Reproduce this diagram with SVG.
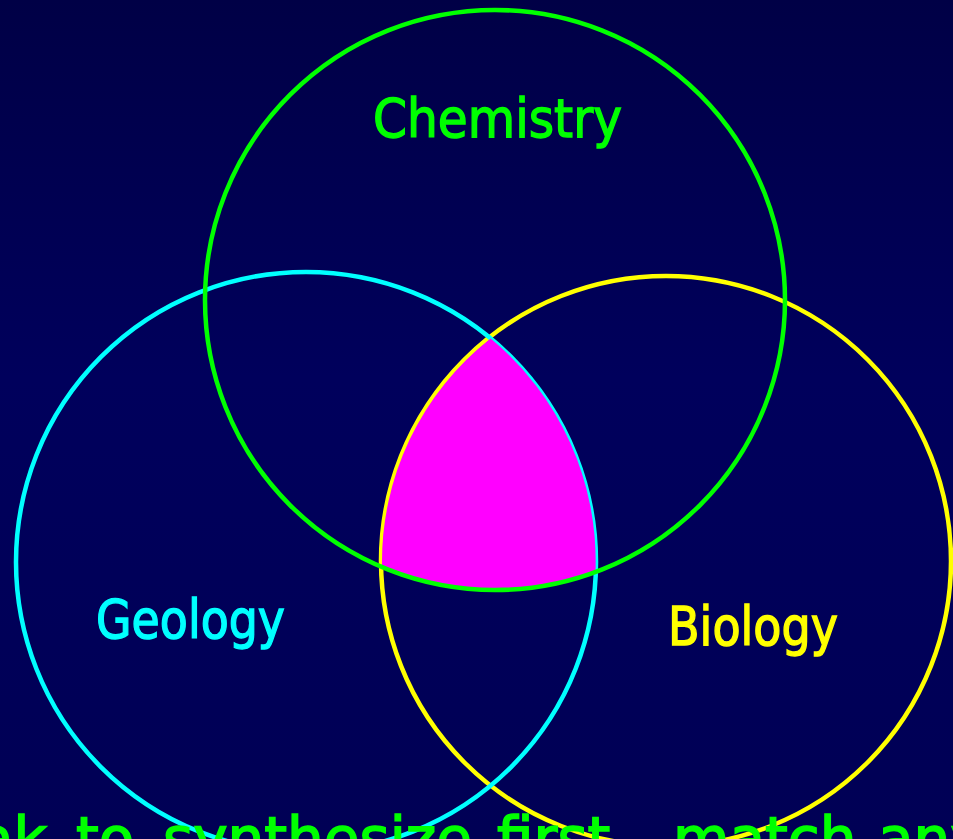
<svg xmlns="http://www.w3.org/2000/svg" width="953" height="839" viewBox="0 0 953 839">
  <defs>
    <linearGradient id="bg" x1="0" y1="0" x2="0" y2="1">
      <stop offset="0" stop-color="#000046"/>
      <stop offset="0.45" stop-color="#00005c"/>
      <stop offset="1" stop-color="#000055"/>
    </linearGradient>
  </defs>
  <style>
    .ring { fill: none; stroke-width: 4.5; }
    .lbl { font-family: "DejaVu Sans", "Liberation Sans", sans-serif; font-size: 53px; stroke-width: 1.4; }
    .foot { font-family: "DejaVu Sans", "Liberation Sans", sans-serif; font-size: 58px; fill: #00ff00; stroke: #00ff00; stroke-width: 1.6; }
  </style>
  <rect x="0" y="0" width="953" height="839" fill="url(#bg)"/>

  <g id="biology">
    <circle class="ring" cx="666" cy="561" r="285" stroke="#ffff00"/>
    <text class="lbl" x="668" y="645" fill="#ffff00" stroke="#ffff00" textLength="170" lengthAdjust="spacingAndGlyphs">Biology</text>
  </g>

  <g id="geology">
    <circle class="ring" cx="306" cy="562" r="290" stroke="#00ffff"/>
    <text class="lbl" x="96" y="638" fill="#00ffff" stroke="#00ffff" textLength="189" lengthAdjust="spacingAndGlyphs">Geology</text>
  </g>

  <g id="overlap">
    <path d="M 490.6 338.5 A 284 284 0 0 0 382 566.7 A 290 290 0 0 0 595.5 571 A 289 289 0 0 0 490.6 338.5 Z" fill="#ff00ff"/>
  </g>

  <g id="chemistry">
    <circle class="ring" cx="495" cy="300" r="290" stroke="#00ff00"/>
    <text class="lbl" x="373" y="137" fill="#00ff00" stroke="#00ff00" textLength="249" lengthAdjust="spacingAndGlyphs">Chemistry</text>
  </g>

  <text class="foot" y="859"><tspan x="-22">ak</tspan> <tspan x="76">to</tspan> <tspan x="163">synthesize</tspan> <tspan x="497">first,</tspan> <tspan x="673">match</tspan> <tspan x="878">any</tspan></text>
</svg>
